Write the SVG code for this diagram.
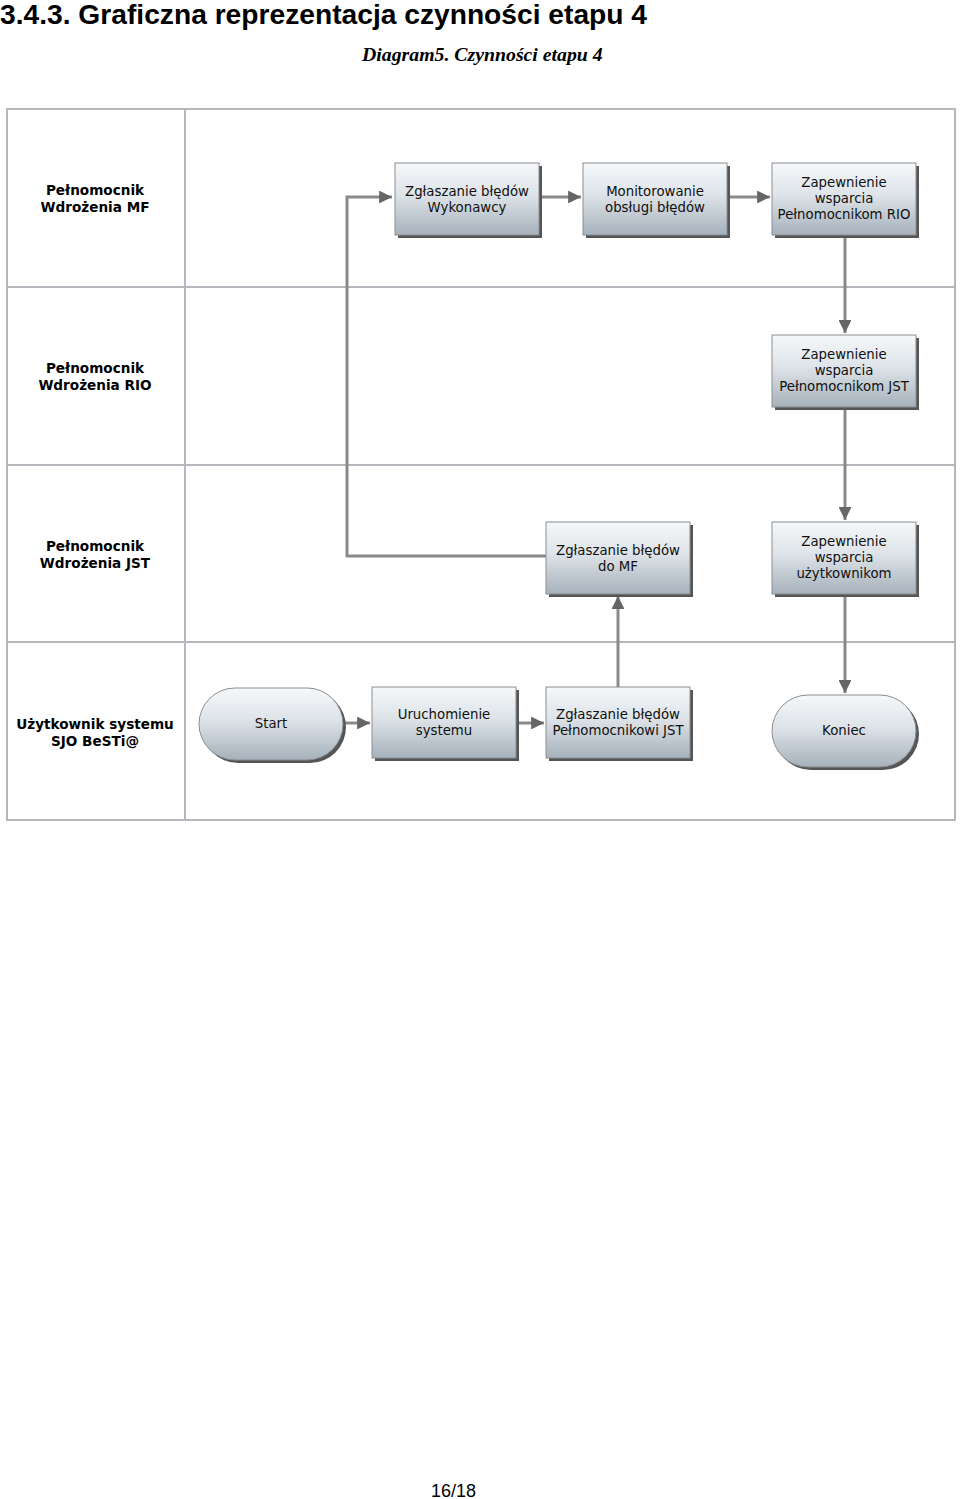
<svg xmlns="http://www.w3.org/2000/svg" width="960" height="1499" viewBox="0 0 960 1499">
<style>
.title{font-family:"Liberation Sans",Arial,sans-serif;font-weight:bold;font-size:28.2px;fill:#000}
.sub{font-family:"Liberation Serif","Times New Roman",serif;font-style:italic;font-weight:bold;font-size:19.8px;fill:#000}
.page{font-family:"Liberation Sans",Arial,sans-serif;font-size:18px;fill:#000}
.lane{font-family:"DejaVu Sans",Verdana,sans-serif;font-weight:bold;font-size:13.6px;fill:#000;text-anchor:middle}
.nt{font-family:"DejaVu Sans",Verdana,sans-serif;font-size:13.3px;fill:#111;text-anchor:middle}
.grid{fill:none;stroke:#b4b8bc;stroke-width:2}
.box{fill:url(#g);stroke:#8a8e92;stroke-width:1}
.sh{fill:#555}
.con{fill:none;stroke:#8a8a8a;stroke-width:3}
</style>
<defs>
<linearGradient id="g" x1="0" y1="0" x2="0" y2="1">
<stop offset="0" stop-color="#f6f8fa"/>
<stop offset="0.45" stop-color="#dde3e8"/>
<stop offset="1" stop-color="#a6b1bb"/>
</linearGradient>
<marker id="ah" viewBox="0 0 10 10" refX="10" refY="5" markerWidth="4.3" markerHeight="4.3" orient="auto" markerUnits="strokeWidth">
<path d="M0,0 L10,5 L0,10 z" fill="#666"/>
</marker>
</defs>
<rect width="960" height="1499" fill="#fff"/>
<text class="title" x="0" y="24">3.4.3.  Graficzna reprezentacja czynności etapu 4</text>
<text class="sub" x="362" y="61">Diagram5. Czynności etapu 4</text>

<g id="lanes">
<rect class="grid" x="7" y="109" width="948" height="711"/>
<line class="grid" x1="185" y1="109" x2="185" y2="820"/>
<line class="grid" x1="7" y1="287" x2="955" y2="287"/>
<line class="grid" x1="7" y1="465" x2="955" y2="465"/>
<line class="grid" x1="7" y1="642" x2="955" y2="642"/>
<text class="lane" x="95" y="195">Pełnomocnik</text>
<text class="lane" x="95" y="212">Wdrożenia MF</text>
<text class="lane" x="95" y="373">Pełnomocnik</text>
<text class="lane" x="95" y="390">Wdrożenia RIO</text>
<text class="lane" x="95" y="551">Pełnomocnik</text>
<text class="lane" x="95" y="568">Wdrożenia JST</text>
<text class="lane" x="95" y="729">Użytkownik systemu</text>
<text class="lane" x="95" y="746">SJO BeSTi@</text>
</g>

<g id="connectors">
<path class="con" d="M546,556 H347 V197 H392" marker-end="url(#ah)"/>
<path class="con" d="M539,197 H581" marker-end="url(#ah)"/>
<path class="con" d="M727,197 H770" marker-end="url(#ah)"/>
<path class="con" d="M845,236 V333" marker-end="url(#ah)"/>
<path class="con" d="M845,408 V520" marker-end="url(#ah)"/>
<path class="con" d="M845,595 V693" marker-end="url(#ah)"/>
<path class="con" d="M343,723 H370" marker-end="url(#ah)"/>
<path class="con" d="M516,723 H544" marker-end="url(#ah)"/>
<path class="con" d="M618,687 V596" marker-end="url(#ah)"/>
</g>

<g id="n1">
<rect class="sh" x="398" y="166" width="144" height="72"/>
<rect class="box" x="395" y="163" width="144" height="72"/>
<text class="nt" x="467" y="196">Zgłaszanie błędów</text>
<text class="nt" x="467" y="212">Wykonawcy</text>
</g>
<g id="n2">
<rect class="sh" x="586" y="166" width="144" height="72"/>
<rect class="box" x="583" y="163" width="144" height="72"/>
<text class="nt" x="655" y="196">Monitorowanie</text>
<text class="nt" x="655" y="212">obsługi błędów</text>
</g>
<g id="n3">
<rect class="sh" x="775" y="166" width="144" height="72"/>
<rect class="box" x="772" y="163" width="144" height="72"/>
<text class="nt" x="844" y="187">Zapewnienie</text>
<text class="nt" x="844" y="203">wsparcia</text>
<text class="nt" x="844" y="219">Pełnomocnikom RIO</text>
</g>
<g id="n4">
<rect class="sh" x="775" y="338" width="144" height="72"/>
<rect class="box" x="772" y="335" width="144" height="72"/>
<text class="nt" x="844" y="359">Zapewnienie</text>
<text class="nt" x="844" y="375">wsparcia</text>
<text class="nt" x="844" y="391">Pełnomocnikom JST</text>
</g>
<g id="n5">
<rect class="sh" x="549" y="525" width="144" height="72"/>
<rect class="box" x="546" y="522" width="144" height="72"/>
<text class="nt" x="618" y="555">Zgłaszanie błędów</text>
<text class="nt" x="618" y="571">do MF</text>
</g>
<g id="n6">
<rect class="sh" x="775" y="525" width="144" height="72"/>
<rect class="box" x="772" y="522" width="144" height="72"/>
<text class="nt" x="844" y="546">Zapewnienie</text>
<text class="nt" x="844" y="562">wsparcia</text>
<text class="nt" x="844" y="578">użytkownikom</text>
</g>
<g id="start">
<rect class="sh" x="202" y="691" width="144" height="72" rx="36"/>
<rect class="box" x="199" y="688" width="144" height="72" rx="36"/>
<text class="nt" x="271" y="728">Start</text>
</g>
<g id="n7">
<rect class="sh" x="375" y="690" width="144" height="71"/>
<rect class="box" x="372" y="687" width="144" height="71"/>
<text class="nt" x="444" y="719">Uruchomienie</text>
<text class="nt" x="444" y="735">systemu</text>
</g>
<g id="n8">
<rect class="sh" x="549" y="690" width="144" height="71"/>
<rect class="box" x="546" y="687" width="144" height="71"/>
<text class="nt" x="618" y="719">Zgłaszanie błędów</text>
<text class="nt" x="618" y="735">Pełnomocnikowi JST</text>
</g>
<g id="koniec">
<rect class="sh" x="775" y="698" width="144" height="72" rx="36"/>
<rect class="box" x="772" y="695" width="144" height="72" rx="36"/>
<text class="nt" x="844" y="735">Koniec</text>
</g>

<text class="page" x="431" y="1497">16/18</text>
</svg>
